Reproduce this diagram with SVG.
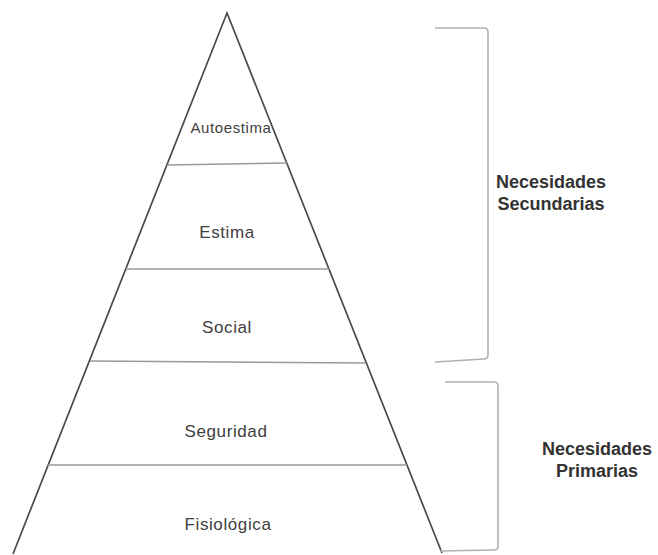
<svg xmlns="http://www.w3.org/2000/svg" width="658" height="555" viewBox="0 0 658 555">
<style>
.side{stroke:#4a4a4a;stroke-width:1.7;fill:none}
.lvl{stroke:#9a9a9a;stroke-width:1.6;fill:none}
.br{stroke:#b0b0b0;stroke-width:1.6;fill:none}
.lab{font-family:"Liberation Sans",Arial,sans-serif;fill:#404040;text-anchor:middle;letter-spacing:0.6px}
.grp{font-family:"Liberation Sans",Arial,sans-serif;font-weight:bold;font-size:18px;fill:#333;text-anchor:middle}
</style>
<rect width="658" height="555" fill="#fff"/>
<g id="pyramid">
<path class="side" d="M13,554 L227,13 L442,553"/>
</g>
<g id="connectors">
<path class="lvl" d="M167,165 L287,163"/>
<path class="lvl" d="M126,269 L329,269"/>
<path class="lvl" d="M90,361 L366,363"/>
<path class="lvl" d="M48,465 L407,465"/>
<path class="br" d="M435,28 L484,28 Q488,28 488,32 L488,355 Q488,359 484,359 L435,362"/>
<path class="br" d="M445,382 L494,382 Q498,382 498,386 L498,546 Q498,550 494,550 L440,551"/>
</g>
<g id="autoestima"><text class="lab" x="231" y="133" font-size="15">Autoestima</text></g>
<g id="estima"><text class="lab" x="227" y="238" font-size="17">Estima</text></g>
<g id="social"><text class="lab" x="227" y="333" font-size="17">Social</text></g>
<g id="seguridad"><text class="lab" x="226" y="437" font-size="17">Seguridad</text></g>
<g id="fisiologica"><text class="lab" x="228" y="530" font-size="17">Fisiológica</text></g>
<g id="secundarias"><text class="grp" x="551" y="188">Necesidades</text><text class="grp" x="551" y="210">Secundarias</text></g>
<g id="primarias"><text class="grp" x="597" y="455">Necesidades</text><text class="grp" x="597" y="477">Primarias</text></g>
</svg>
